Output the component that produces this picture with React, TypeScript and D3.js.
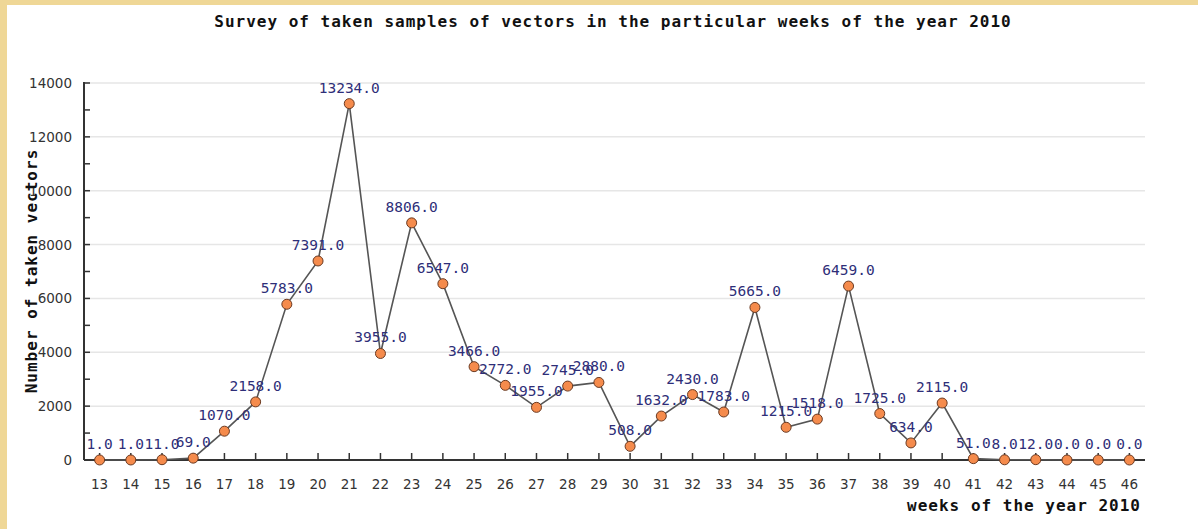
import React, { useEffect, useRef } from "react";
import { select, scalePoint, scaleLinear, line, range } from "d3";

const weeks = [13, 14, 15, 16, 17, 18, 19, 20, 21, 22, 23, 24, 25, 26, 27, 28, 29, 30, 31, 32, 33, 34, 35, 36, 37, 38, 39, 40, 41, 42, 43, 44, 45, 46];
const samples = [1, 1, 11, 69, 1070, 2158, 5783, 7391, 13234, 3955, 8806, 6547, 3466, 2772, 1955, 2745, 2880, 508, 1632, 2430, 1783, 5665, 1215, 1518, 6459, 1725, 634, 2115, 51, 8, 12, 0, 0, 0];
const yTicks = [0, 2000, 4000, 6000, 8000, 10000, 12000, 14000];

const TITLE = "Survey of taken samples of vectors in the particular weeks of the year 2010";
const X_TITLE = "weeks of the year 2010";
const Y_TITLE = "Number of taken vectors";

export default function App() {
  const svgRef = useRef<SVGSVGElement>(null);

  useEffect(() => {
    document.body.style.margin = "0";
    const W = 1198, H = 529;
    const left = 84, right = 1145, top = 83, bottom = 460;
    const mono = "'DejaVu Sans Mono', monospace";
    const sans = "'DejaVu Sans', Verdana, sans-serif";

    const svg = select(svgRef.current);
    svg.selectAll("*").remove();
    svg.attr("width", W).attr("height", H);

    // page background with golden border
    svg.append("rect").attr("width", W).attr("height", H).attr("fill", "#efd796");
    svg.append("rect").attr("x", 7).attr("y", 5).attr("width", W - 7).attr("height", H - 5).attr("fill", "#ffffff");

    const x = scalePoint<number>().domain(weeks).range([left, right]).padding(0.5);
    const y = scaleLinear().domain([0, 14000]).range([bottom, top]);

    // grid
    svg.append("g")
      .selectAll("line")
      .data(yTicks.slice(1))
      .join("line")
      .attr("x1", left).attr("x2", right)
      .attr("y1", (d) => y(d)).attr("y2", (d) => y(d))
      .attr("stroke", "#e6e6e6").attr("stroke-width", 1.5);

    // y axis
    svg.append("line").attr("x1", left).attr("x2", left).attr("y1", top - 1).attr("y2", bottom)
      .attr("stroke", "#333").attr("stroke-width", 2);
    svg.append("g")
      .selectAll("line")
      .data(range(1000, 14001, 1000))
      .join("line")
      .attr("x1", left).attr("x2", left + 6)
      .attr("y1", (d) => y(d)).attr("y2", (d) => y(d))
      .attr("stroke", "#333").attr("stroke-width", 1.5);
    svg.append("g")
      .selectAll("text")
      .data(yTicks)
      .join("text")
      .text((d) => d)
      .attr("x", 72)
      .attr("y", (d) => y(d) + 5)
      .attr("text-anchor", "end")
      .attr("font-family", sans)
      .attr("font-size", 13.5)
      .attr("fill", "#333");

    // x axis
    svg.append("line").attr("x1", left).attr("x2", right).attr("y1", bottom).attr("y2", bottom)
      .attr("stroke", "#333").attr("stroke-width", 2);
    svg.append("g")
      .selectAll("line")
      .data(weeks)
      .join("line")
      .attr("x1", (d) => x(d)!).attr("x2", (d) => x(d)!)
      .attr("y1", bottom).attr("y2", bottom - 7)
      .attr("stroke", "#333").attr("stroke-width", 1.5);
    svg.append("g")
      .selectAll("text")
      .data(weeks)
      .join("text")
      .text((d) => d)
      .attr("x", (d) => x(d)!)
      .attr("y", 489)
      .attr("text-anchor", "middle")
      .attr("font-family", sans)
      .attr("font-size", 13.5)
      .attr("fill", "#333");

    // line + points
    const pts = weeks.map((w, i) => ({ w, v: samples[i] }));
    svg.append("path")
      .datum(pts)
      .attr("d", line<{ w: number; v: number }>().x((d) => x(d.w)!).y((d) => y(d.v)))
      .attr("fill", "none")
      .attr("stroke", "#555")
      .attr("stroke-width", 1.6);
    svg.append("g")
      .selectAll("circle")
      .data(pts)
      .join("circle")
      .attr("cx", (d) => x(d.w)!)
      .attr("cy", (d) => y(d.v))
      .attr("r", 5)
      .attr("fill", "#f58b4c")
      .attr("stroke", "#6a3a22")
      .attr("stroke-width", 1);
    svg.append("g")
      .selectAll("text")
      .data(pts)
      .join("text")
      .text((d) => d.v.toFixed(1))
      .attr("x", (d) => x(d.w)!)
      .attr("y", (d) => y(d.v) - 11)
      .attr("text-anchor", "middle")
      .attr("font-family", mono)
      .attr("font-size", 14.5)
      .attr("fill", "#2e2e78");

    // titles
    svg.append("text").text(TITLE)
      .attr("x", 613).attr("y", 27)
      .attr("text-anchor", "middle")
      .attr("font-family", mono).attr("font-weight", "bold")
      .attr("font-size", 16).attr("letter-spacing", 1)
      .attr("fill", "#111");
    svg.append("text").text(X_TITLE)
      .attr("x", 1141).attr("y", 511)
      .attr("text-anchor", "end")
      .attr("font-family", mono).attr("font-weight", "bold")
      .attr("font-size", 16).attr("letter-spacing", 1)
      .attr("fill", "#111");
    svg.append("text").text(Y_TITLE)
      .attr("transform", "translate(37, 271) rotate(-90)")
      .attr("text-anchor", "middle")
      .attr("font-family", mono).attr("font-weight", "bold")
      .attr("font-size", 16).attr("letter-spacing", 1)
      .attr("fill", "#111");
  }, []);

  return <svg ref={svgRef} style={{ display: "block" }}></svg>;
}
